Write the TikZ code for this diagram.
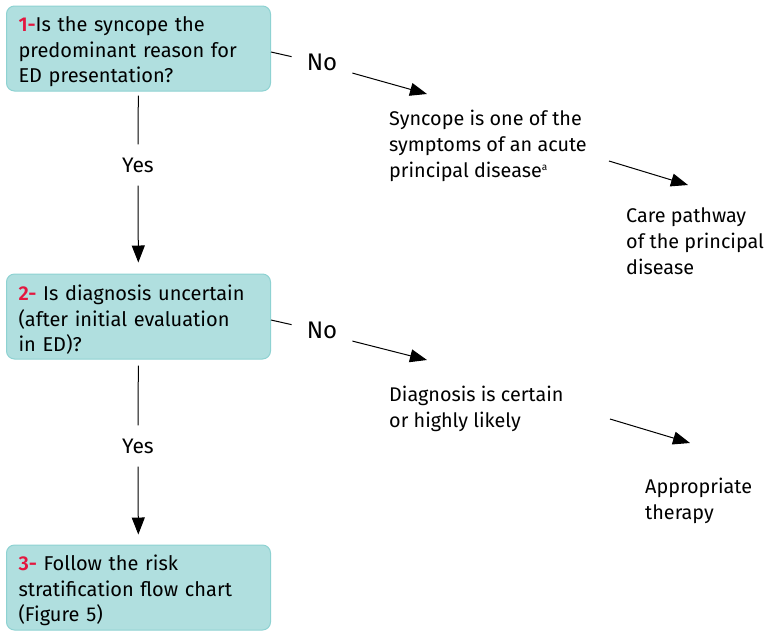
\documentclass[tikz,border=0pt]{standalone}
\usepackage{fontspec}
\setmainfont{Fira Sans}
\newfontfamily\numfont{Fira Sans SemiBold}
\usetikzlibrary{positioning,arrows.meta}
\definecolor{boxfill}{HTML}{B0DFDF}
\definecolor{boxline}{HTML}{8ED2D2}
\definecolor{stepred}{HTML}{E3173F}
\newcommand{\stepno}[1]{\rule{0pt}{22pt}\textcolor{stepred}{\numfont #1}}
\tikzset{question/.style={draw=boxline, fill=boxfill, rounded corners=8pt, line width=1pt, minimum width=263pt, minimum height=85pt, text width=240pt, align=left, inner xsep=12pt, font=\fontsize{20}{25.5}\selectfont},
	answer/.style={align=left, inner sep=0pt, anchor=north west, font=\fontsize{19.8}{26}\selectfont},
	choice/.style={inner xsep=15pt, inner ysep=13pt, font=\fontsize{21}{21}\selectfont},
	link/.style={line width=1pt},
	arr/.style={line width=1pt, -{Triangle[length=17pt,width=13pt]}}}

\begin{document}
\begin{tikzpicture}[x=1pt,y=-1pt]
				\useasboundingbox (0,0) rectangle (768,638);

				\node[question] (Q1) at (138.5,48.5) {\stepno{1-}Is the syncope the\\ predominant reason for\\ ED presentation?};
				\node[question] (Q2) at (138.5,316.5) {\stepno{2-} Is diagnosis uncertain\\ (after initial evaluation\\ in ED)?};
				\node[question] (Q3) at (138.5,587.5) {\stepno{3-} Follow the risk\\ stratification flow chart\\ (Figure 5)};

				\node[choice] (Y1) at (138,165) {Yes};
				\node[choice] (Y2) at (138,446) {Yes};
				\node[choice, font=\fontsize{24}{24}\selectfont] (N1) at (322,62) {No};
				\node[choice, font=\fontsize{24}{24}\selectfont] (N2) at (322,330) {No};

				\node[answer] (A1) at (389,110) {Syncope is one of the\\ symptoms of an acute\\ principal disease\textsuperscript{\fontsize{10}{10}\selectfont a}};
				\node[answer] (C1) at (626,207) {Care pathway\\ of the principal\\ disease};
				\node[answer] (A2) at (389,386) {Diagnosis is certain\\ or highly likely};
				\node[answer] (C2) at (645,478) {Appropriate\\ therapy};

				\coordinate (T1) at (427,94);
				\coordinate (S1) at (609,161);
				\coordinate (E1) at (688,185);
				\coordinate (T2) at (427,360);
				\coordinate (S2) at (610,419);
				\coordinate (E2) at (690,443);

				\draw[link, shorten <=4pt] (Q1) -- (Y1);
				\draw[arr, shorten >=11pt] (Y1) -- (Q2);
				\draw[link, shorten <=6pt] (Q2) -- (Y2);
				\draw[arr, shorten >=10pt] (Y2) -- (Q3);

				\draw[link] ([yshift=-3.5pt]Q1.east) -- (N1.170);
				\draw[arr] (N1.-20) -- (T1);
				\draw[arr] (S1) -- (E1);
				\draw[link] ([yshift=-3.5pt]Q2.east) -- (N2.170);
				\draw[arr] (N2.-20) -- (T2);
				\draw[arr] (S2) -- (E2);
			\end{tikzpicture}
\end{document}
